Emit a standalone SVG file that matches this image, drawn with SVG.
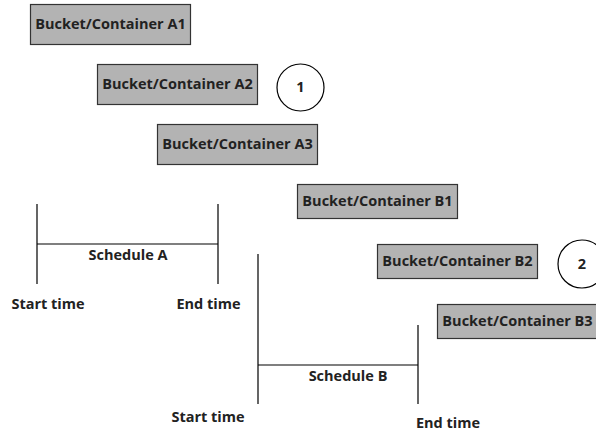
<svg xmlns="http://www.w3.org/2000/svg" width="596" height="431" viewBox="0 0 596 431">
<style>
.box{fill:#b3b3b3;stroke:#333333;stroke-width:1.2}
.t{font-family:"Open Sans","Noto Sans",sans-serif;font-weight:700;font-size:14.5px;fill:#222222;text-anchor:middle}
.ln{stroke:#000000;stroke-width:1.2;fill:none}
.c{fill:#ffffff;stroke:#000000;stroke-width:1.2}
</style>
<rect width="596" height="431" fill="#ffffff"/>
<g id="A1"><rect class="box" x="30.5" y="4.5" width="160" height="40"/><text class="t" x="110.5" y="29">Bucket/Container A1</text></g>
<g id="A2"><rect class="box" x="97.5" y="64.5" width="160" height="40"/><text class="t" x="177.5" y="89">Bucket/Container A2</text></g>
<g id="A3"><rect class="box" x="157.5" y="124.5" width="160" height="40"/><text class="t" x="237.5" y="149">Bucket/Container A3</text></g>
<g id="B1"><rect class="box" x="297.5" y="184.5" width="160" height="34"/><text class="t" x="377.5" y="206">Bucket/Container B1</text></g>
<g id="B2"><rect class="box" x="377.5" y="244.5" width="160" height="34"/><text class="t" x="457.5" y="266">Bucket/Container B2</text></g>
<g id="B3"><rect class="box" x="437.5" y="304.5" width="160" height="34"/><text class="t" x="517.5" y="326">Bucket/Container B3</text></g>
<g id="c1"><circle class="c" cx="300.5" cy="87.5" r="23.5"/><text class="t" x="300.5" y="92">1</text></g>
<g id="c2"><circle class="c" cx="582" cy="264" r="24"/><text class="t" x="582" y="268.5">2</text></g>
<g id="connectors">
<path class="ln" d="M37,204V284M218,204V284M37,244H218"/>
<path class="ln" d="M258,254V404M418,325V404M258,365H418"/>
</g>
<g id="labels">
<text class="t" x="128" y="260">Schedule A</text>
<text class="t" x="48" y="309">Start time</text>
<text class="t" x="208.5" y="309">End time</text>
<text class="t" x="348" y="381">Schedule B</text>
<text class="t" x="208" y="422">Start time</text>
<text class="t" x="448" y="428">End time</text>
</g>
</svg>
